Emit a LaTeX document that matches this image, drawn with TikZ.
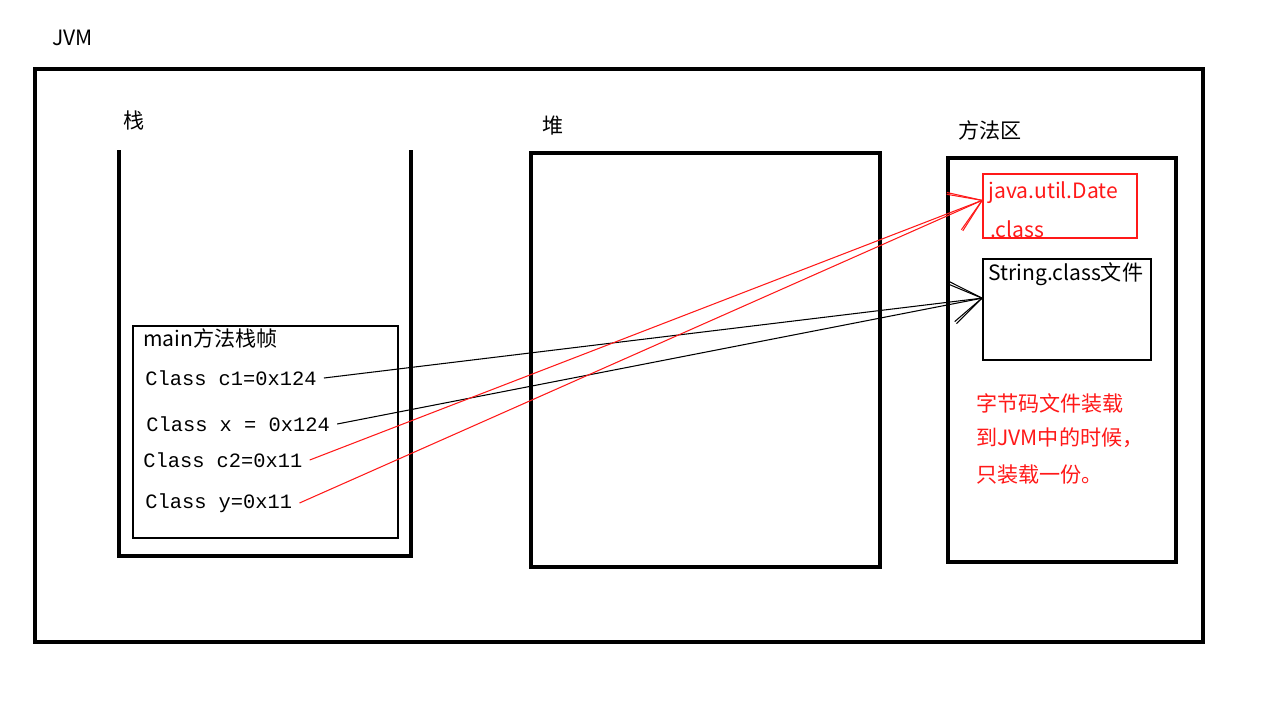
\documentclass[tikz,border=0pt]{standalone}
\usepackage{fontspec}
\setmainfont{Noto Sans CJK SC}
\newfontfamily\codefont{Liberation Mono}
\usetikzlibrary{arrows.meta}
\definecolor{jvmred}{rgb}{1.0,0.1,0.1}

\begin{document}
\begin{tikzpicture}[x=0.02cm,y=-0.02cm,
  heavyline/.style={line width=2.8pt,line join=miter},
  thinline/.style={line width=0.6pt},
  labeltext/.style={anchor=west,inner sep=0pt,font=\fontsize{12}{14}\selectfont},
  codetext/.style={anchor=west,inner sep=0pt,font=\codefont\fontsize{11.6}{13}\selectfont},
  refarrow/.style={line width=0.6pt,-{Straight Barb[length=0.6cm,width=0.8cm]}}]
\useasboundingbox (0,0) rectangle (1268,704);
\fill[white] (0,0) rectangle (1268,704);
% outer JVM box
\node[labeltext] (jvmlabel) at (52,38) {JVM};
\draw[heavyline] (35,69) rectangle (1203,642);
% stack
\node[labeltext] (stacklabel) at (123,120) {栈};
\draw[heavyline] (119,150) -- (119,556) -- (411,556) -- (411,150);
\draw[thinline] (133,326) rectangle (398,538);
\node[labeltext] (framelabel) at (143,338) {main方法栈帧};
\node[codetext] (c1) at (145,378) {Class c1=0x124};
\node[codetext] (x) at (146,424) {Class x = 0x124};
\node[codetext] (c2) at (143,460) {Class c2=0x11};
\node[codetext] (y) at (145,503) {Class y=0x11};
% heap
\node[labeltext] (heaplabel) at (542,126) {堆};
\draw[heavyline] (531,153) rectangle (880,567);
% method area
\node[labeltext] (methodlabel) at (958,130) {方法区};
\draw[heavyline] (948,158) rectangle (1176,562);
\draw[jvmred,thinline] (983,174) rectangle (1137,238);
\node[labeltext,text=jvmred] (date1) at (988,193) {java.util.Date};
\node[labeltext,text=jvmred] (date2) at (990,229) {.class};
\draw[thinline] (983,259) rectangle (1151,360);
\node[labeltext] (stringlabel) at (988,274) {String.class文件};
\node[labeltext,text=jvmred] (note1) at (976,403) {字节码文件装载};
\node[labeltext,text=jvmred] (note2) at (976,438) {到JVM中的时候，};
\node[labeltext,text=jvmred] (note3) at (976,475) {只装载一份。};
% references
\coordinate (datetip) at (983,200);
\coordinate (stringtip) at (983,298);
\draw[refarrow] ([xshift=4pt]c1.east) -- (stringtip);
\draw[refarrow] ([xshift=4pt]x.east) -- (stringtip);
\draw[refarrow,jvmred] ([xshift=4pt]c2.east) -- (datetip);
\draw[refarrow,jvmred] ([xshift=4pt]y.east) -- (datetip);
\end{tikzpicture}
\end{document}
